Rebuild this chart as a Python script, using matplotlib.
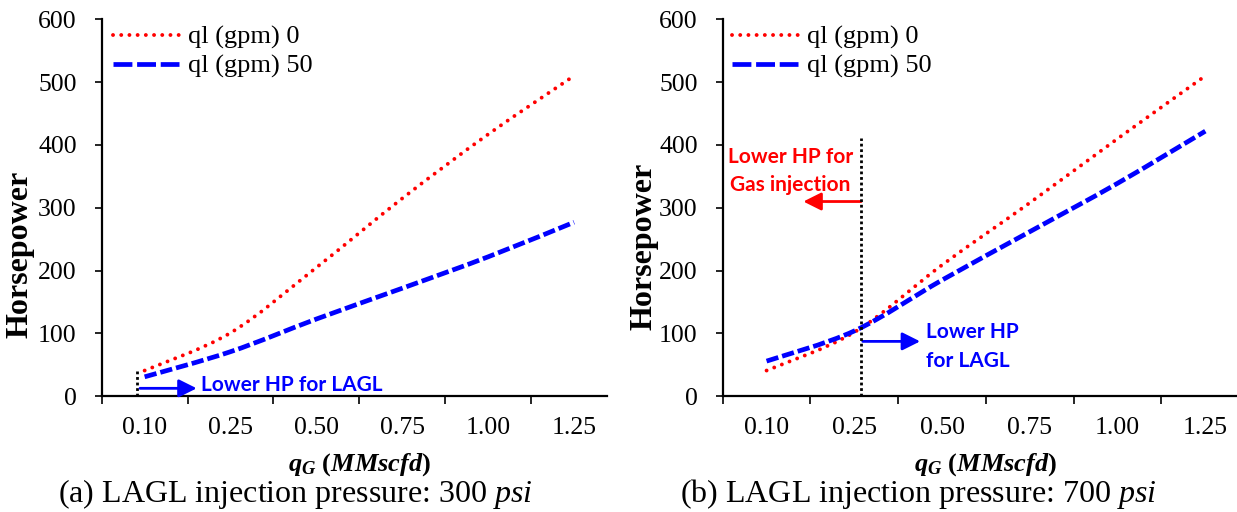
import numpy as np
import matplotlib
matplotlib.use("Agg")
import matplotlib.pyplot as plt
from matplotlib.path import Path
from matplotlib.patches import PathPatch
from matplotlib.lines import Line2D

# ---------------- data ----------------
categories = ["0.10", "0.25", "0.50", "0.75", "1.00", "1.25"]
series_labels = ["ql (gpm) 0", "ql (gpm) 50"]
hp_300_q0 = [41, 101, 205, 315, 417, 510]
hp_300_q50 = [31, 71, 123, 172, 222, 277]
hp_700_q0 = [41, 102, 209, 308, 410, 510]
hp_700_q50 = [56, 104, 185, 262, 339, 422]
y_ticks = [0, 100, 200, 300, 400, 500, 600]
captions = ["(a) LAGL injection pressure: 300 $\\mathsf{psi}$",
            "(b) LAGL injection pressure: 700 $\\mathsf{psi}$"]

plt.rcParams['font.family'] = ['Liberation Serif', 'DejaVu Serif']
plt.rcParams['mathtext.fontset'] = 'custom'
plt.rcParams['mathtext.it'] = 'Liberation Serif:bold:italic'
plt.rcParams['mathtext.rm'] = 'Liberation Serif:bold'
plt.rcParams['mathtext.bf'] = 'Liberation Serif:bold'
plt.rcParams['mathtext.sf'] = 'Liberation Serif:italic'

RED = '#ff0000'
BLUE = '#0000ff'
TICK_FS = 18.5
ANN_FONT = dict(family='Lato', weight='bold', fontsize=15)

fig = plt.figure(figsize=(12.37, 5.12), dpi=100)
W, H = 1237.0, 512.0
axL = fig.add_axes([101.7 / W, (H - 396.3) / H, (617 - 101.7) / W, (396.3 - 19.3) / H])
axR = fig.add_axes([722.7 / W, (H - 396.3) / H, (1249.2 - 722.7) / W, (396.3 - 19.3) / H])


def smooth_path(xv, yv):
    pts = np.column_stack([xv, yv]).astype(float)
    n = len(pts)
    verts = [pts[0]]
    codes = [Path.MOVETO]
    for i in range(n - 1):
        p0 = pts[max(i - 1, 0)]
        p1 = pts[i]
        p2 = pts[i + 1]
        p3 = pts[min(i + 2, n - 1)]
        c1 = p1 + (p2 - p0) / 6.0
        c2 = p2 - (p3 - p1) / 6.0
        verts += [c1, c2, p2]
        codes += [Path.CURVE4] * 3
    return Path(verts, codes)


RED_LW, BLUE_LW = 2.8, 3.4
RED_LS = (0, (0.01, 2.1))
BLUE_LS = (0, (2.6, 0.85))


def setup(ax, q0, q50, ylabel_xy, legend_xy):
    x = np.arange(len(categories))
    p_red = PathPatch(smooth_path(x, q0), fill=False, transform=ax.transData, zorder=3,
                      edgecolor=RED, capstyle='round')
    p_red.set_linewidth(RED_LW)
    p_red.set_linestyle(RED_LS)
    p_blue = PathPatch(smooth_path(x, q50), fill=False, transform=ax.transData, zorder=3,
                       edgecolor=BLUE, capstyle='butt')
    p_blue.set_linewidth(BLUE_LW)
    p_blue.set_linestyle(BLUE_LS)
    ax.add_patch(p_red)
    ax.add_patch(p_blue)
    ax.set_xlim(-0.5, len(categories) - 0.5)
    ax.set_ylim(0, 600)
    ax.set_yticks(y_ticks)
    ax.set_yticklabels([str(v) for v in y_ticks])
    ax.set_xticks(np.arange(-0.5, len(categories) - 0.5, 1.0))
    ax.set_xticklabels([])
    ax.set_xticks(x, minor=True)
    ax.set_xticklabels(categories, minor=True)
    ax.tick_params(axis='y', which='major', direction='out', length=5, width=1.2,
                   labelsize=TICK_FS, pad=13)
    ax.tick_params(axis='x', which='major', direction='out', length=5.5, width=1.2)
    ax.tick_params(axis='x', which='minor', length=0, labelsize=TICK_FS, pad=15)
    for s in ['top', 'right']:
        ax.spines[s].set_visible(False)
    for s in ['left', 'bottom']:
        ax.spines[s].set_linewidth(1.6)
    ax.text(ylabel_xy[0], ylabel_xy[1], 'Horsepower', rotation=90, ha='center', va='center',
            fontsize=23, fontweight='bold', transform=ax.transAxes)
    ax.text(0.5, -0.198, r'$q_G\ (MMscfd)$', ha='center', va='baseline', fontsize=19,
            transform=ax.transAxes)
    handles = [Line2D([], [], color=RED, lw=RED_LW, linestyle=RED_LS, dash_capstyle='round'),
               Line2D([], [], color=BLUE, lw=BLUE_LW, linestyle=(0, (4.0, 1.0)), dash_capstyle='butt')]
    ax.legend(handles, series_labels, loc='upper left', bbox_to_anchor=legend_xy, frameon=False,
              fontsize=19, handlelength=2.5, handletextpad=0.35, labelspacing=0.2,
              borderaxespad=0, borderpad=0)


setup(axL, hp_300_q0, hp_300_q50, (-0.158, 0.3775), (0.022, 0.984))
setup(axR, hp_700_q0, hp_700_q50, (-0.149, 0.399), (0.017, 0.984))
axL.spines['bottom'].set_bounds(-0.5, 5.38)

# annotations left
arrow_kw = dict(arrowstyle='-|>,head_length=0.9,head_width=0.45', mutation_scale=12, lw=2.0,
                shrinkA=0, shrinkB=0)
axL.plot([-0.086, -0.086], [0, 42], color='black', lw=2.0, linestyle=(0, (1, 1)), zorder=2)
axL.annotate('', xy=(0.606, 12.7), xytext=(-0.054, 12.7),
             arrowprops=dict(color=BLUE, **arrow_kw))
axL.text(0.652, 8.9, 'Lower HP for LAGL', color=BLUE, ha='left', va='baseline', **ANN_FONT)

# annotations right
axR.plot([1.077, 1.077], [0, 411], color='black', lw=2.0, linestyle=(0, (1, 1)), zorder=4)
axR.annotate('', xy=(0.419, 310), xytext=(1.077, 310),
             arrowprops=dict(color=RED, **arrow_kw))
axR.annotate('', xy=(1.75, 87.4), xytext=(1.096, 87.4),
             arrowprops=dict(color=BLUE, **arrow_kw))
axR.text(0.273, 372, 'Lower HP for', color=RED, ha='center', va='baseline', **ANN_FONT)
axR.text(0.273, 326, 'Gas injection', color=RED, ha='center', va='baseline', **ANN_FONT)
axR.text(1.812, 93.2, 'Lower HP', color=BLUE, ha='left', va='baseline', **ANN_FONT)
axR.text(1.812, 47, 'for LAGL', color=BLUE, ha='left', va='baseline', **ANN_FONT)

fig.text(295 / W, (H - 501.7) / H, captions[0], ha='center', va='baseline', fontsize=23)
fig.text(918.5 / W, (H - 501.7) / H, captions[1], ha='center', va='baseline', fontsize=23)

fig.savefig('out.png', dpi=100)
